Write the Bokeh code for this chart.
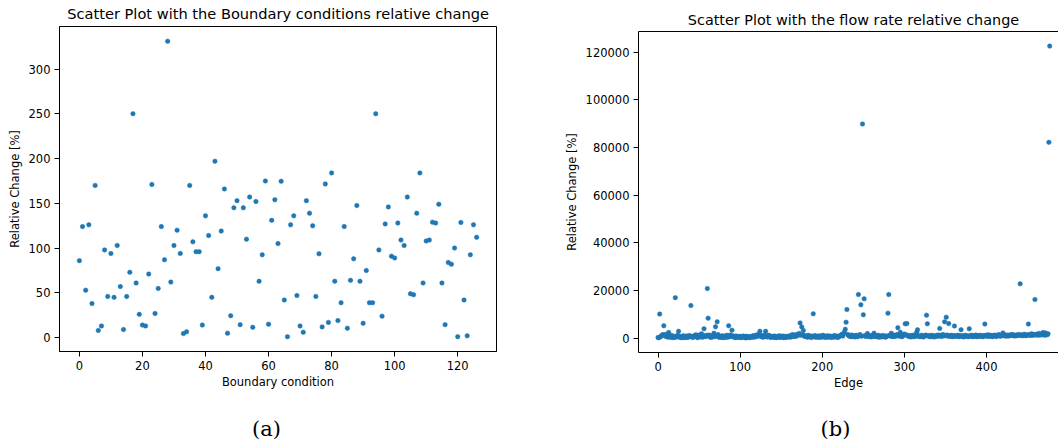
from bokeh.plotting import figure
from bokeh.models import FixedTicker, BasicTickFormatter, Label, LinearAxis
from bokeh.layouts import row, column
from bokeh.embed import file_html
from bokeh.resources import INLINE

# ---- data (a): boundary condition relative change [%] ----
bc_change = [
    86, 124, 53, 126, 38, 170, 8, 13, 98, 46,
    94, 45, 103, 57, 9, 46, 73, 250, 61, 26,
    14, 13, 71, 171, 27, 55, 124, 87, 331, 62,
    103, 120, 94, 4.5, 6.5, 170, 107, 96, 96, 14,
    136, 114, 45, 197, 77, 119, 166, 5, 24.5, 145,
    153, 14.5, 145, 110, 157, 11.5, 152, 63, 92.5, 175,
    15, 131, 154, 105, 174.7, 42, 1, 126, 136, 47,
    13, 6, 153, 139, 125, 46, 93.6, 12, 171.7, 17,
    184, 63, 19, 39, 124, 10.5, 64, 88, 147.5, 63,
    16, 75, 39, 39, 250, 98, 24, 127, 146, 91,
    89, 128, 109, 103, 157, 49, 48, 139, 184, 61,
    108, 109, 129, 128, 149, 61, 14.5, 84, 82, 100,
    1, 128.6, 42, 2, 92.5, 126, 112,
]
bc_index = list(range(len(bc_change)))

# ---- data (b): flow rate relative change [%] per edge ----
flow_change = [
    300, 150, 10100, 600, 900, 1200, 1500, 5200, 1300, 800, 1600, 700, 400, 2400, 900, 600, 300, 1100, 500, 200,
    700, 17000, 400, 900, 1200, 2900, 500, 300, 800, 150, 600, 1000, 400, 200, 700, 900, 300, 500, 1100, 600,
    13700, 800, 300, 500, 1000, 700, 1400, 600, 200, 900, 1300, 500, 800, 1800, 400, 700, 3900, 1000, 600, 1200,
    20800, 8400, 1300, 500, 900, 300, 700, 1100, 2100, 600, 4750, 900, 6850, 1500, 400, 800, 300, 600, 1000, 200,
    500, 900, 300, 700, 1200, 400, 5200, 800, 1300, 600, 3350, 1000, 500, 700, 200, 900, 400, 600, 300, 800,
    500, 200, 700, 400, 900, 300, 600, 100, 800, 400, 500, 200, 700, 300, 600, 900, 400, 1100, 500, 800,
    1300, 700, 1500, 1200, 2900, 900, 600, 1100, 400, 800, 1300, 2900, 700, 500, 1000, 1200, 600, 300, 800, 500,
    700, 300, 900, 500, 200, 600, 800, 400, 1000, 300, 600, 500, 900, 200, 700, 400, 300, 800, 500, 600,
    900, 400, 1200, 600, 1500, 800, 1100, 700, 1400, 900, 1600, 1300, 2000, 6400, 1200, 4700, 1500, 3200, 900, 700,
    1000, 600, 400, 1200, 700, 500, 900, 300, 800, 10200, 600, 1100, 400, 700, 500, 900, 300, 600, 1000, 400,
    700, 1200, 500, 800, 300, 600, 1000, 400, 700, 900, 500, 300, 800, 600, 400, 1100, 700, 500, 900, 300,
    600, 800, 1000, 1300, 1600, 900, 2000, 2500, 3700, 6700, 12000, 1500, 1200, 800, 1000, 600, 1300, 900, 700, 1100,
    500, 800, 1200, 600, 18300, 1000, 1500, 14000, 800, 89900, 9800, 16500, 1100, 700, 900, 1900, 1200, 600, 1000, 800,
    500, 900, 1300, 2100, 700, 1000, 600, 800, 1200, 400, 900, 700, 500, 1100, 800, 600, 1000, 400, 700, 900,
    10500, 18300, 1200, 800, 2100, 1000, 600, 1300, 900, 700, 1100, 1500, 4400, 1200, 800, 2500, 1000, 600, 900, 1300,
    1700, 6000, 1400, 6100, 900, 1100, 700, 1000, 500, 800, 1200, 600, 900, 1300, 700, 2500, 3500, 1000, 800, 600,
    900, 1200, 700, 500, 1000, 800, 1300, 9650, 6000, 1100, 700, 900, 600, 1200, 800, 1000, 500, 900, 700, 1100,
    800, 1300, 900, 4100, 1200, 700, 1000, 1500, 900, 6850, 1100, 8800, 1300, 800, 6100, 1000, 700, 1200, 900, 600,
    1100, 5100, 800, 1000, 700, 1200, 900, 600, 1100, 3550, 800, 1000, 500, 900, 1200, 700, 1000, 800, 600, 3900,
    1100, 800, 1200, 600, 900, 1000, 700, 1300, 800, 600, 1000, 900, 1200, 700, 800, 1100, 600, 1000, 5900, 1200,
    800, 1000, 1400, 700, 900, 1200, 1000, 600, 1100, 800, 1300, 1000, 700, 900, 1200, 1500, 1000, 800, 1100, 1300,
    2200, 1000, 1400, 1200, 800, 1100, 1300, 900, 1000, 1200, 1500, 1300, 1100, 1400, 900, 1200, 1000, 1300, 1100, 1500,
    1200, 22800, 1400, 1000, 1300, 1100, 1600, 1200, 1000, 1400, 1200, 5900, 1500, 1300, 1100, 1800, 1400, 1200, 1600, 16200,
    1300, 1500, 1700, 1200, 2000, 1400, 1600, 1300, 1800, 2400, 1500, 1200, 2200, 1600, 1400, 1800, 82200, 122600,
]
edge_index = list(range(len(flow_change)))

bc_xticks = [0, 20, 40, 60, 80, 100, 120]
bc_yticks = [0, 50, 100, 150, 200, 250, 300]
edge_xticks = [0, 100, 200, 300, 400]
edge_yticks = [0, 20000, 40000, 60000, 80000, 100000, 120000]

title_a = "Scatter Plot with the Boundary conditions relative change"
title_b = "Scatter Plot with the flow rate relative change"

DOT = "#1f77b4"
FONT = "DejaVu Sans"
SERIF = "DejaVu Serif"


def text_strip(width, height, text, x, y, font, size):
    """A blank strip (no axes) holding one text; its frame aligns with the plot below,
    and the label sits in screen pixels from that frame's lower-left corner."""
    s = figure(width=width, height=height, output_backend="svg", toolbar_location=None,
               x_range=(0, 1), y_range=(0, 1), x_axis_type=None, y_axis_type=None,
               min_border=0, min_border_left=0, min_border_right=0,
               min_border_top=0, min_border_bottom=0)
    s.outline_line_color = None
    s.background_fill_color = "white"
    s.border_fill_color = "white"
    s.add_layout(Label(x=x, y=y, x_units="screen", y_units="screen", text=text,
                       text_font=font, text_font_size=size,
                       text_color="black", text_align="center", text_baseline="middle"))
    return s


def style(p, xlabel, ylabel, xt, yt):
    p.grid.visible = False
    for ax in (p.xaxis[0], p.yaxis[0]):
        ax.axis_label_text_font = FONT
        ax.axis_label_text_font_size = "11.5px"
        ax.axis_label_text_font_style = "normal"
        ax.axis_label_text_color = "black"
        ax.major_label_text_font = FONT
        ax.major_label_text_font_size = "11.5px"
        ax.major_label_text_color = "black"
        ax.axis_line_color = "black"
        ax.major_tick_line_color = "black"
        ax.major_tick_out = 5
        ax.major_tick_in = 0
        ax.minor_tick_line_color = None
        ax.major_label_standoff = 4
        ax.axis_label_standoff = 4
    p.xaxis[0].axis_label_standoff = 2
    p.xaxis[0].axis_label = xlabel
    p.yaxis[0].axis_label = ylabel
    p.xaxis[0].ticker = FixedTicker(ticks=xt)
    p.yaxis[0].ticker = FixedTicker(ticks=yt)
    p.yaxis[0].formatter = BasicTickFormatter(use_scientific=False)
    p.xaxis[0].formatter = BasicTickFormatter(use_scientific=False)


# ---- left panel (a) ----
t1 = text_strip(530, 26, title_a, 218.6, 13, FONT, "14.6px")
p1 = figure(width=530, height=384, output_backend="svg", toolbar_location=None,
            x_range=(-6.3, 132.3), y_range=(-15.5, 347.5),
            min_border=0, min_border_left=59, min_border_right=34,
            min_border_top=0, min_border_bottom=59)
p1.outline_line_color = "black"
p1.outline_line_alpha = 1
p1.scatter(bc_index, bc_change, size=4.5, fill_color=DOT, line_color=DOT, line_width=0.5)
style(p1, "Boundary condition", "Relative Change [%]", bc_xticks, bc_yticks)
c1 = text_strip(530, 34, "(a)", 207, 16, SERIF, "21px")

# ---- right panel (b) ----
t2 = text_strip(528, 31, title_b, 215, 12, FONT, "14.4px")
p2 = figure(width=528, height=379, output_backend="svg", toolbar_location=None,
            x_range=(-23.8, 487.7), y_range=(-6025, 128725),
            min_border=0, min_border_left=108, min_border_right=0,
            min_border_top=0, min_border_bottom=58)
p2.outline_line_color = None
p2.scatter(edge_index, flow_change, size=4.5, fill_color=DOT, line_color=DOT, line_width=0.5)
style(p2, "Edge", "Relative Change [%]", edge_xticks, edge_yticks)
top_axis = LinearAxis(ticker=FixedTicker(ticks=[]), major_tick_line_color=None,
                      minor_tick_line_color=None, major_tick_out=0, major_tick_in=0,
                      axis_line_color="black", major_label_standoff=0)
p2.add_layout(top_axis, "above")
c2 = text_strip(528, 34, "(b)", 197, 16, SERIF, "21px")

layout = row(column(t1, p1, c1), column(t2, p2, c2))
open("out.html", "w").write(file_html(layout, INLINE))
